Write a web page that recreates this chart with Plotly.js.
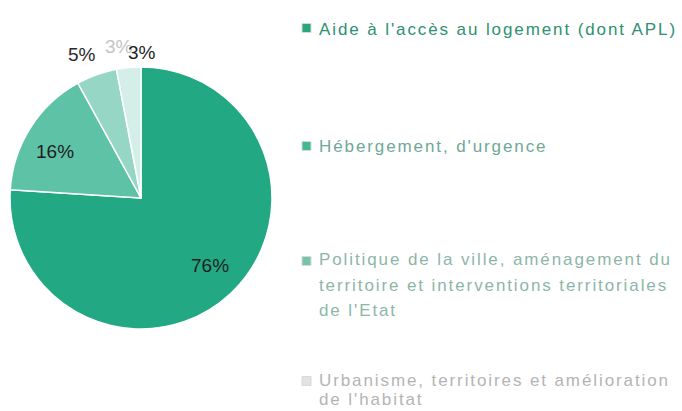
<!DOCTYPE html>
<html>
<head>
<meta charset="utf-8">
<script src="https://cdn.plot.ly/plotly-3.0.1.min.js"></script>
<style>
  html, body { margin: 0; padding: 0; background: #fff; }
  #chart { width: 682px; height: 411px; }
  g.annotation text { letter-spacing: 1.9px; }
  g.annotation[data-index="7"] text,
  g.annotation[data-index="8"] text,
  g.annotation[data-index="9"] text,
  g.annotation[data-index="10"] text,
  g.annotation[data-index="11"] text { letter-spacing: 0px; }
</style>
</head>
<body>
<div id="chart"></div>
<script>
// Data
var categories = [
  "Aide à l'accès au logement (dont APL)",
  "Hébergement, d'urgence",
  "Politique de la ville, aménagement du territoire et interventions territoriales de l'Etat",
  "Urbanisme, territoires et amélioration de l'habitat"
];
var values = [76, 16, 5, 3];
var sliceColors = ["#23a884", "#5ec2a6", "#95d6c4", "#d3efe8"];
var legendLines = [
  ["Aide à l'accès au logement (dont APL)"],
  ["Hébergement, d'urgence"],
  ["Politique de la ville, aménagement du", "territoire et interventions territoriales", "de l'Etat"],
  ["Urbanisme, territoires et amélioration", "de l'habitat"]
];
var legendTextColors = ["#2e8f72", "#6fa897", "#8db6a8", "#b4b4b4"];
var legendMarkerColors = ["#27a67f", "#45b790", "#74c5a9", "#e2e2e2"];
var ghostLabel = "3%";

// Layout helpers (pixel -> paper)
var W = 682, H = 411;
function px(x) { return x / W; }
function py(y) { return 1 - y / H; }

var cx = 141, cy = 198, r = 131;

var trace = {
  type: 'pie',
  labels: categories,
  values: values,
  sort: false,
  direction: 'clockwise',
  rotation: 0,
  marker: { colors: sliceColors, line: { color: '#ffffff', width: 1.5 } },
  textinfo: 'none',
  domain: { x: [px(cx - r), px(cx + r)], y: [py(cy + r), py(cy - r)] },
  showlegend: false,
  hoverinfo: 'label+percent'
};

var lineY = [[29], [146], [259, 285, 310], [380, 411]];
var lineAnchor = [['middle'], ['middle'], ['middle', 'middle', 'middle'], ['middle', 'bottom']];
var markerY = [28, 146, 261, 381];
var annotations = [];
var shapes = [];
for (var i = 0; i < legendLines.length; i++) {
  for (var j = 0; j < legendLines[i].length; j++) {
    annotations.push({
      xref: 'paper', yref: 'paper',
      x: px(317), y: py(lineY[i][j]),
      xanchor: 'left', yanchor: lineAnchor[i][j], align: 'left',
      text: legendLines[i][j],
      showarrow: false,
      font: { family: 'Liberation Sans, Arial, sans-serif', size: 17, color: legendTextColors[i] }
    });
  }
  shapes.push({
    type: 'rect', xref: 'paper', yref: 'paper',
    x0: px(302), x1: px(311), y0: py(markerY[i] + 4.5), y1: py(markerY[i] - 4.5),
    fillcolor: legendMarkerColors[i],
    line: { color: '#d8d8d8', width: 1 }
  });
}

// percentage labels (text from the data values)
var total = values.reduce(function (a, b) { return a + b; }, 0);
var labelPos = [[210, 265], [55, 151], [82, 55], [142, 52]];
var labelColors = ['#1e1e1e', '#1e1e1e', '#2a2a2a', '#1e1e1e'];
for (var k = 0; k < values.length; k++) {
  annotations.push({
    xref: 'paper', yref: 'paper',
    x: px(labelPos[k][0]), y: py(labelPos[k][1]),
    xanchor: 'center', yanchor: 'middle',
    text: Math.round(values[k] / total * 100) + '%',
    showarrow: false,
    font: { family: 'Liberation Sans, Arial, sans-serif', size: 19, color: labelColors[k] }
  });
}
// ghosted overlapping label
annotations.push({
  xref: 'paper', yref: 'paper',
  x: px(119), y: py(47),
  xanchor: 'center', yanchor: 'middle',
  text: ghostLabel,
  showarrow: false,
  font: { family: 'Liberation Sans, Arial, sans-serif', size: 19, color: '#c4c4c4' }
});
// draw ghost first so the black label sits on top
annotations.splice(7, 0, annotations.pop());

var layout = {
  width: W, height: H,
  margin: { l: 0, r: 0, t: 0, b: 0 },
  paper_bgcolor: '#ffffff',
  showlegend: false,
  annotations: annotations,
  shapes: shapes
};

Plotly.newPlot('chart', [trace], layout, { displayModeBar: false, staticPlot: true });
</script>
</body>
</html>
